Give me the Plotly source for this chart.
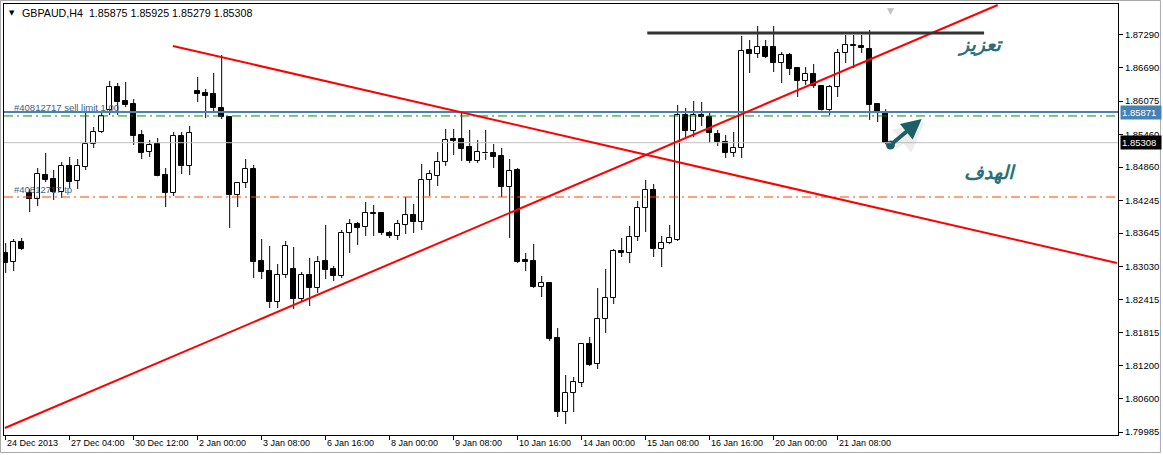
import numpy as np
import plotly.graph_objects as go

# ---------------- data (GBPAUD, H4) ----------------
open_ = [
    1.83279, 1.83113, 1.83481, 1.84383, 1.84272, 1.84714, 1.84640, 1.84401, 1.84880, 1.84604,
    1.84861, 1.85284, 1.85505, 1.85910, 1.86333, 1.86076, 1.86020, 1.85450, 1.85137, 1.85284,
    1.84714, 1.84383, 1.85432, 1.84880, 1.86260, 1.86223, 1.86204, 1.85947, 1.85781, 1.84346,
    1.84567, 1.84824, 1.83132, 1.82948, 1.82377, 1.82874, 1.82984, 1.82432, 1.82874, 1.82635,
    1.83132, 1.82984, 1.82856, 1.83647, 1.83812, 1.83757, 1.84015, 1.84015, 1.83647, 1.83592,
    1.83794, 1.83978, 1.83849, 1.84622, 1.84696, 1.84953, 1.85376, 1.85376, 1.85229, 1.84972,
    1.85119, 1.85119, 1.85064, 1.84493, 1.84806, 1.83150, 1.83132, 1.82653, 1.82727, 1.81715,
    1.80353, 1.80703, 1.80887, 1.81604, 1.81236, 1.82064, 1.82451, 1.83316, 1.83279, 1.83573,
    1.84107, 1.84438, 1.83352, 1.83463, 1.83518, 1.85818, 1.85524, 1.85818, 1.85781, 1.85468,
    1.85321, 1.85119, 1.85211, 1.87014, 1.86940, 1.87069, 1.87069, 1.86775, 1.86922, 1.86683,
    1.86444, 1.86572, 1.86352, 1.85910, 1.86333, 1.86959, 1.87106, 1.87088, 1.87032, 1.86020,
    1.85875]
high = [
    1.83463, 1.83536, 1.83555, 1.84456, 1.84843, 1.85119, 1.84806, 1.84953, 1.85045, 1.85008,
    1.85855, 1.85597, 1.85855, 1.86444, 1.86407, 1.86425, 1.86112, 1.85542, 1.85358, 1.85395,
    1.84843, 1.85505, 1.85505, 1.85616, 1.86517, 1.86296, 1.86591, 1.86922, 1.85790, 1.84585,
    1.85008, 1.84898, 1.83536, 1.83408, 1.83076, 1.83500, 1.83389, 1.82929, 1.83187, 1.83224,
    1.83794, 1.83040, 1.83702, 1.83904, 1.83849, 1.84217, 1.84162, 1.84033, 1.83684, 1.83886,
    1.84309, 1.84180, 1.84916, 1.84806, 1.85137, 1.85560, 1.85560, 1.85855, 1.85542, 1.85358,
    1.85542, 1.85284, 1.85211, 1.85008, 1.84843, 1.83279, 1.83444, 1.82856, 1.82735, 1.81899,
    1.81034, 1.80997, 1.81623, 1.81733, 1.82635, 1.82984, 1.83352, 1.83555, 1.83776, 1.84236,
    1.84622, 1.84548, 1.83592, 1.83794, 1.86002, 1.85947, 1.86076, 1.86057, 1.85892, 1.85542,
    1.85450, 1.85505, 1.87272, 1.87198, 1.87456, 1.87198, 1.87456, 1.86977, 1.86959, 1.86701,
    1.86701, 1.86756, 1.86370, 1.86370, 1.87032, 1.87290, 1.87290, 1.87290, 1.87382, 1.86030,
    1.85925]
low = [
    1.82911, 1.82948, 1.83334, 1.84033, 1.84144, 1.84585, 1.84254, 1.84291, 1.84475, 1.84456,
    1.84806, 1.85211, 1.85487, 1.85818, 1.85818, 1.85965, 1.85266, 1.85008, 1.85045, 1.84690,
    1.84125, 1.84328, 1.84732, 1.84714, 1.86057, 1.85763, 1.85873, 1.85744, 1.83739, 1.84125,
    1.84475, 1.82819, 1.82800, 1.82267, 1.82267, 1.82819, 1.82248, 1.82377, 1.82304, 1.82543,
    1.82800, 1.82764, 1.82819, 1.83279, 1.83426, 1.83592, 1.83592, 1.83610, 1.83555, 1.83518,
    1.83628, 1.83647, 1.83702, 1.84328, 1.84512, 1.84880, 1.85082, 1.84972, 1.84935, 1.84935,
    1.84990, 1.84843, 1.84309, 1.83555, 1.83095, 1.82948, 1.82635, 1.82469, 1.81660, 1.80261,
    1.80132, 1.80353, 1.80813, 1.81200, 1.81144, 1.81807, 1.82340, 1.83205, 1.83095, 1.83500,
    1.83665, 1.83205, 1.83021, 1.83444, 1.83500, 1.85413, 1.85413, 1.85616, 1.85303, 1.85248,
    1.85027, 1.85045, 1.85027, 1.86591, 1.86867, 1.86867, 1.86609, 1.86407, 1.86554, 1.86149,
    1.86370, 1.86315, 1.85900, 1.85818, 1.86149, 1.86775, 1.86683, 1.86959, 1.85726, 1.85689,
    1.85279]
close = [
    1.83095, 1.83481, 1.83352, 1.84272, 1.84732, 1.84622, 1.84401, 1.84880, 1.84585, 1.84880,
    1.85284, 1.85505, 1.85800, 1.86333, 1.86057, 1.86002, 1.85432, 1.85119, 1.85266, 1.84696,
    1.84383, 1.85432, 1.84880, 1.85487, 1.86204, 1.86168, 1.85947, 1.85781, 1.84346, 1.84567,
    1.84824, 1.83113, 1.82929, 1.82377, 1.82874, 1.83408, 1.82432, 1.82874, 1.82635, 1.83113,
    1.82966, 1.82856, 1.83647, 1.83812, 1.83739, 1.84015, 1.83996, 1.83647, 1.83592, 1.83812,
    1.83978, 1.83849, 1.84622, 1.84732, 1.84953, 1.85358, 1.85340, 1.85192, 1.84972, 1.85137,
    1.85110, 1.85045, 1.84493, 1.84788, 1.83113, 1.83113, 1.82653, 1.82727, 1.81696, 1.80353,
    1.80703, 1.80905, 1.81604, 1.81218, 1.82064, 1.82451, 1.83316, 1.83279, 1.83573, 1.84107,
    1.84438, 1.83352, 1.83463, 1.83555, 1.85818, 1.85524, 1.85818, 1.85781, 1.85487, 1.85321,
    1.85119, 1.85211, 1.86996, 1.86940, 1.87069, 1.86885, 1.86775, 1.86922, 1.86664, 1.86444,
    1.86572, 1.86352, 1.85910, 1.86333, 1.86959, 1.87106, 1.87088, 1.87051, 1.86002, 1.85855,
    1.85308]

date_labels = ["24 Dec 2013", "27 Dec 04:00", "30 Dec 12:00", "2 Jan 00:00", "3 Jan 08:00",
               "6 Jan 16:00", "8 Jan 00:00", "9 Jan 08:00", "10 Jan 16:00", "14 Jan 00:00",
               "15 Jan 08:00", "16 Jan 16:00", "20 Jan 00:00", "21 Jan 08:00"]
date_label_bars = [0, 8, 16, 24, 32, 40, 48, 56, 64, 72, 80, 88, 96, 104]

price_ticks = [1.87290, 1.86690, 1.86075, 1.85460, 1.84860, 1.84245, 1.83645,
               1.83030, 1.82415, 1.81815, 1.81200, 1.80600, 1.79985]

sell_limit_price = 1.85871
green_level = 1.85800
bid_price = 1.85308
tp_price = 1.84309
resistance_level = 1.87327
resistance_span = (80.2, 122.3)
trend_down = [(20.9, 1.87088), (138.9, 1.83095)]
trend_up = [(-0.1, 1.80059), (124.0, 1.87842)]
target_arrow = [(110.6, 1.85266), (114.5, 1.85745)]

header = "GBPAUD,H4  1.85875 1.85925 1.85279 1.85308"

# ---------------- figure ----------------
o = np.array(open_); h = np.array(high); l = np.array(low); c = np.array(close)
idx = np.arange(len(o))
top = np.maximum(o, c)
bot = np.minimum(o, c)
bull = c > o
body = np.maximum(top - bot, 0.00004)

FONT = "Liberation Sans"
fig = go.Figure()

# wicks (above and below bodies)
wx, wy = [], []
for i in idx:
    wx += [i, i, None, i, i, None]
    wy += [h[i], top[i], None, bot[i], l[i], None]
fig.add_trace(go.Scatter(x=wx, y=wy, mode="lines", line=dict(color="black", width=1),
                         hoverinfo="skip"))

# bodies
fig.add_trace(go.Bar(x=idx, y=body, base=bot, width=0.58,
                     marker=dict(color=np.where(bull, "white", "black"),
                                 line=dict(color="black", width=1)),
                     hoverinfo="skip"))

# target arrow start dot
fig.add_trace(go.Scatter(x=[target_arrow[0][0]], y=[target_arrow[0][1]], mode="markers",
                         marker=dict(color="#1d5f66", size=9), hoverinfo="skip"))

shapes = []
shapes.append(dict(type="line", xref="paper", x0=0, x1=1, yref="y", y0=bid_price, y1=bid_price,
                   line=dict(color="#c0c0c0", width=1)))
shapes.append(dict(type="line", xref="paper", x0=0, x1=1, yref="y", y0=green_level, y1=green_level,
                   line=dict(color="#0a8a0a", width=1, dash="9px,4px,2px,4px")))
shapes.append(dict(type="line", xref="paper", x0=0, x1=1, yref="y", y0=tp_price, y1=tp_price,
                   line=dict(color="#ff4500", width=1.2, dash="9px,4px,2px,4px")))
shapes.append(dict(type="line", xref="paper", x0=0, x1=1, yref="y", y0=sell_limit_price,
                   y1=sell_limit_price, line=dict(color="#4682b4", width=2)))
for (x0, y0), (x1, y1) in (trend_down, trend_up):
    shapes.append(dict(type="line", xref="x", yref="y", x0=x0, y0=y0, x1=x1, y1=y1,
                       line=dict(color="#ff0000", width=2)))
shapes.append(dict(type="line", xref="x", yref="y", x0=resistance_span[0], x1=resistance_span[1],
                   y0=resistance_level, y1=resistance_level, line=dict(color="#333333", width=3)))
shapes.append(dict(type="rect", xref="paper", yref="paper", x0=-0.0031, x1=1.0381,
                   y0=-0.0406, y1=1.0081, line=dict(color="#a8a8a8", width=1), layer="below"))

annotations = []
for pos, lab in zip(date_label_bars, date_labels):
    annotations.append(dict(x=pos, xref="x", y=-0.0186, yref="paper", text=lab, showarrow=False,
                            xanchor="left", yanchor="middle", xshift=-1,
                            font=dict(family=FONT, size=9, color="black")))
annotations.append(dict(x=0.0027, xref="paper", y=0.979, yref="paper", text="▼", showarrow=False,
                        xanchor="left", yanchor="middle", font=dict(family="DejaVu Sans", size=7, color="black")))
annotations.append(dict(x=0.0145, xref="paper", y=0.979, yref="paper", text=header, showarrow=False,
                        xanchor="left", yanchor="middle", font=dict(family=FONT, size=10.7, color="black")))
annotations.append(dict(x=0.0068, xref="paper", y=sell_limit_price, yref="y",
                        text="#40812717 sell limit 1.00", showarrow=False, xanchor="left",
                        yanchor="bottom", yshift=-3, font=dict(family=FONT, size=9.5, color="#3d5f80")))
annotations.append(dict(x=0.0068, xref="paper", y=tp_price, yref="y",
                        text="#40812717 tp", showarrow=False, xanchor="left",
                        yanchor="bottom", yshift=0, font=dict(family=FONT, size=9.5, color="#3d5f80")))
annotations.append(dict(x=1, xref="paper", y=sell_limit_price, yref="y", text="1.85871",
                        showarrow=False, xanchor="left", yanchor="middle", xshift=2,
                        bgcolor="#4682b4", borderpad=1, width=38, align="left",
                        font=dict(family=FONT, size=9.5, color="white")))
annotations.append(dict(x=1, xref="paper", y=bid_price, yref="y", text="1.85308",
                        showarrow=False, xanchor="left", yanchor="middle", xshift=2,
                        bgcolor="black", borderpad=1, width=38, align="left",
                        font=dict(family=FONT, size=9.5, color="white")))
annotations.append(dict(x=121.8, xref="x", y=1.87106, yref="y", text="<b><i>تعزيز</i></b>",
                        showarrow=False, font=dict(family="DejaVu Sans", size=19, color="#2b6f7b")))
annotations.append(dict(x=123.0, xref="x", y=1.84769, yref="y", text="<b><i>الهدف</i></b>",
                        showarrow=False, font=dict(family="DejaVu Sans", size=19, color="#2b6f7b")))
annotations.append(dict(x=target_arrow[1][0], y=target_arrow[1][1], xref="x", yref="y",
                        ax=target_arrow[0][0], ay=target_arrow[0][1], axref="x", ayref="y",
                        text="", showarrow=True, arrowhead=2, arrowsize=1, arrowwidth=6,
                        arrowcolor="rgba(160,160,160,0.18)", xshift=3, yshift=-3))
annotations.append(dict(x=target_arrow[1][0], y=target_arrow[1][1], xref="x", yref="y",
                        ax=target_arrow[0][0], ay=target_arrow[0][1], axref="x", ayref="y",
                        text="", showarrow=True, arrowhead=2, arrowsize=1, arrowwidth=4,
                        arrowcolor="#1d5f66"))
annotations.append(dict(x=110.6, xref="x", y=1.0, yref="paper", text="▼", showarrow=False,
                        yanchor="top", font=dict(family="DejaVu Sans", size=9, color="#c4c4c4")))

fig.update_layout(
    width=1163, height=455,
    margin=dict(l=4, r=45, t=4, b=20),
    paper_bgcolor="white", plot_bgcolor="white",
    showlegend=False, bargap=0, hovermode=False,
    shapes=shapes, annotations=annotations,
    xaxis=dict(range=[-0.21, 139.04], showgrid=False, zeroline=False, showline=True, mirror=True,
               linecolor="black", linewidth=1, tickvals=date_label_bars, ticks="outside",
               ticklen=4, tickcolor="black", showticklabels=False, fixedrange=True),
    yaxis=dict(range=[1.79930, 1.87860], side="right", showgrid=False, zeroline=False,
               showline=True, mirror=True, linecolor="black", linewidth=1,
               tickvals=price_ticks, ticktext=[f"{v:.5f}" for v in price_ticks],
               ticks="outside", ticklen=4, tickcolor="black",
               tickfont=dict(family=FONT, size=9.5, color="black"), fixedrange=True),
)

fig.write_html("out.html", config={"displayModeBar": False},
               post_script="document.body.style.margin='0px';document.body.style.overflow='hidden';")
